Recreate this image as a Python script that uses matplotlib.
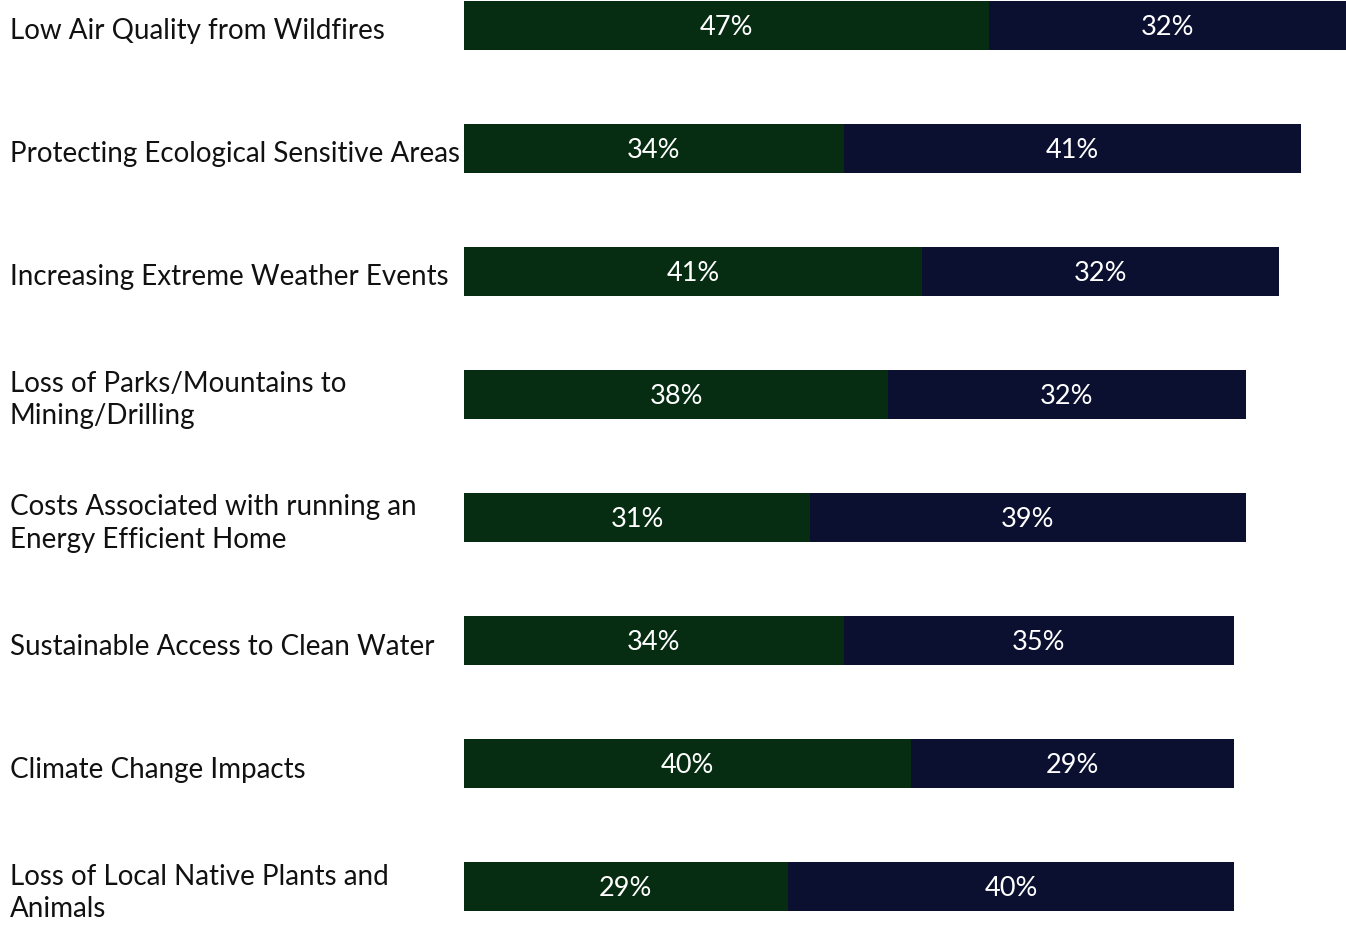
import matplotlib
matplotlib.use("Agg")
import matplotlib.pyplot as plt

categories = [
    "Low Air Quality from Wildfires",
    "Protecting Ecological Sensitive Areas",
    "Increasing Extreme Weather Events",
    "Loss of Parks/Mountains to\nMining/Drilling",
    "Costs Associated with running an\nEnergy Efficient Home",
    "Sustainable Access to Clean Water",
    "Climate Change Impacts",
    "Loss of Local Native Plants and\nAnimals",
]
series_a = [47, 34, 41, 38, 31, 34, 40, 29]
series_b = [32, 41, 32, 32, 39, 35, 29, 40]

green = "#062d12"
navy = "#0b1030"

W, H = 1346, 930
fig = plt.figure(figsize=(W / 100, H / 100), dpi=100)
ax = fig.add_axes([464 / W, 0, 1 - 464 / W, 1])

ys = list(range(len(categories)))
spacing = 123.1
top_px = 25
ax.set_ylim((H - top_px) / spacing, -top_px / spacing)
ax.set_xlim(0, 79)

bh = 49 / spacing
ax.barh(ys, series_a, height=bh, color=green, edgecolor="none")
ax.barh(ys, series_b, left=series_a, height=bh, color=navy, edgecolor="none")

off = 2 / spacing
for y, a, b in zip(ys, series_a, series_b):
    ax.text(a / 2, y + off, f"{a}%", ha="center", va="center", color="white",
            fontsize=19.5, family="Lato")
    ax.text(a + b / 2, y + off, f"{b}%", ha="center", va="center", color="white",
            fontsize=19.5, family="Lato")

for y, lab in zip(ys, categories):
    fig.text(10 / W, 1 - (top_px + 6 + y * spacing) / H, lab, ha="left", va="center",
             fontsize=20, family="Lato", color="#111111", linespacing=1.3)

ax.axis("off")
fig.savefig("out.png", dpi=100, facecolor="white")
